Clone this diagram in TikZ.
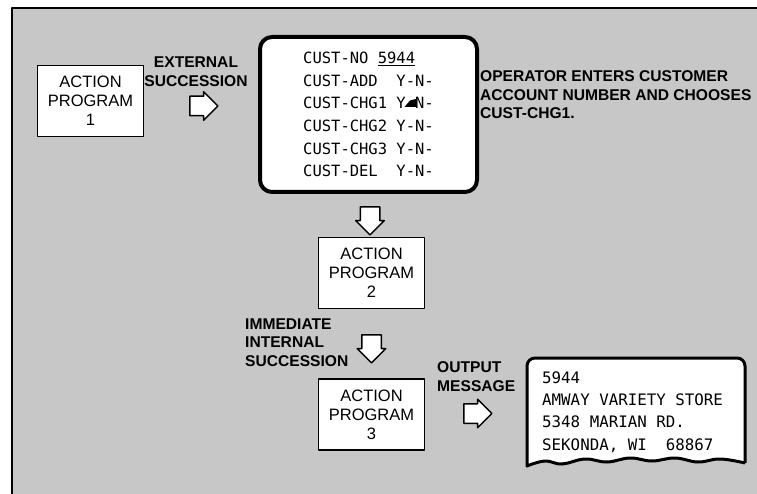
\documentclass[tikz,border=0pt]{standalone}
\usepackage{fontspec}
\setmainfont{Liberation Sans}
\newfontfamily\crtfont{DejaVu Sans Mono}
\usetikzlibrary{shapes.arrows}

\tikzset{
  progbox/.style={draw, fill=white, line width=1.5pt, minimum width=106pt,
    minimum height=71pt, align=center, inner sep=0pt,
    font=\fontsize{16.5}{19}\selectfont},
  blockarrow/.style={single arrow, draw, fill=white, line width=1.5pt,
    minimum height=28pt, inner xsep=0pt, inner ysep=9pt,
    single arrow head extend=4.5pt},
  note/.style={align=left, inner sep=0pt,
    font=\bfseries\fontsize{15.6}{18.5}\selectfont},
  crtline/.style={align=left, inner sep=0pt,
    font=\crtfont\fontsize{15.5}{22.7}\selectfont},
}

\begin{document}
\begin{tikzpicture}[x=1pt, y=-1pt, line join=round]

            \useasboundingbox (0,0) rectangle (757,494);
            \fill[white] (0,0) rectangle (757,494);

            % ==========================================
            % 1. Sfondo e cornice
            % ==========================================
            \fill[black!22] (12,8) rectangle (757,494);
            \draw[line width=1.5pt] (12,494) -- (12,8) -- (757,8);

            % ==========================================
            % 2. Programmi d'azione
            % ==========================================
            \node[progbox] (ap1) at (90.5,101) {ACTION\\PROGRAM\\1};
            \node[progbox] (ap2) at (371.5,273) {ACTION\\PROGRAM\\2};
            \node[progbox] (ap3) at (371.5,414.5) {ACTION\\PROGRAM\\3};

            % ==========================================
            % 3. Schermo del terminale
            % ==========================================
            \node[draw, fill=white, line width=4pt, rounded corners=12pt,
                  minimum width=217pt, minimum height=155pt, crtline] (crt) at (368.5,114.5)
                {CUST-NO \underline{5944}\\
                 CUST-ADD~~Y-N-\\
                 CUST-CHG1 Y~N-\\
                 CUST-CHG2 Y-N-\\
                 CUST-CHG3 Y-N-\\
                 CUST-DEL~~Y-N-};
            \fill (404.5,107) -- (410,100.5) -- (416,99) -- (416,107) -- cycle;

            \node[note, anchor=west] (oper) at (480,95)
                {OPERATOR ENTERS CUSTOMER\\ACCOUNT NUMBER AND CHOOSES\\CUST-CHG1.};

            % ==========================================
            % 4. Frecce di successione
            % ==========================================
            \node[note, align=center] (ext) at (196,71.5) {EXTERNAL\\SUCCESSION};
            \node[blockarrow] (arr1) at (199,106) {};
            \node[blockarrow, rotate=-90] (arr2) at (370,216) {};
            \node[note, anchor=west] (imm) at (245,342.5) {IMMEDIATE\\INTERNAL\\SUCCESSION};
            \node[blockarrow, rotate=-90] (arr3) at (371.5,344) {};
            \node[note, anchor=west] (out) at (437,376.5) {OUTPUT\\MESSAGE};
            \node[blockarrow] (arr4) at (473,413.5) {};

            % ==========================================
            % 5. Messaggio in uscita
            % ==========================================
            \draw[line width=3pt, fill=white] (745,463) [rounded corners=8pt] -- (745,358)
                -- (527,358) [sharp corners] -- (527,466)
                -- plot[smooth, tension=0.7] coordinates {(527,466) (545,461) (562,464)
                   (585,459) (607,462) (630,458) (652,461) (675,458) (698,462) (720,459) (745,463)};
            \node[crtline, anchor=west, font=\crtfont\fontsize{15.8}{22.3}\selectfont] (msg) at (542,412)
                {5944\\AMWAY VARIETY STORE\\5348 MARIAN RD.\\SEKONDA, WI~~68867};

        \end{tikzpicture}
\end{document}
